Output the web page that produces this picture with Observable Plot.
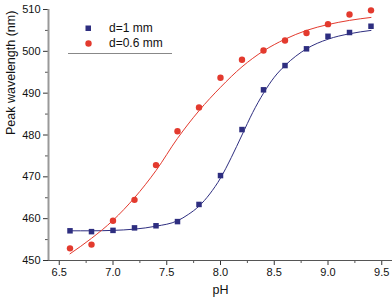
<!DOCTYPE html>
<html>
<head>
<meta charset="utf-8">
<script src="https://cdn.jsdelivr.net/npm/d3@7"></script>
<script src="https://cdn.jsdelivr.net/npm/@observablehq/plot@0.6"></script>
<style>
  html, body { margin: 0; padding: 0; background: #fff; }
  #wrap { position: relative; width: 392px; height: 300px; font-family: "Liberation Sans", Arial, sans-serif; }
  #legend { position: absolute; left: 68px; top: 21px; width: 104px; height: 32px; border-bottom: 1px solid #888; font-size: 12px; color: #111; }
  .item { position: absolute; left: 0; height: 15px; white-space: nowrap; }
  .item svg { position: absolute; left: 17px; top: 4px; }
  .item span { position: absolute; left: 41px; top: 0; line-height: 15px; }
</style>
</head>
<body>
<div id="wrap">
  <div id="chart"></div>
  <div id="legend"></div>
</div>
<script>
// Measured data
const pH = [6.6, 6.8, 7.0, 7.2, 7.4, 7.6, 7.8, 8.0, 8.2, 8.4, 8.6, 8.8, 9.0, 9.2, 9.4];
const peak1mm = [457.1, 456.9, 457.2, 457.8, 458.3, 459.3, 463.4, 470.3, 481.3, 490.8, 496.6, 500.6, 503.6, 504.5, 506.0];
const peak06mm = [452.9, 453.8, 459.5, 464.5, 472.8, 480.9, 486.6, 493.7, 498.0, 500.2, 502.6, 504.4, 506.5, 508.8, 509.8];

// Fit curves
const fitPH1 = [6.6, 6.8, 7.0, 7.2, 7.4, 7.6, 7.7, 7.8, 7.9, 8.0, 8.1, 8.2, 8.3, 8.4, 8.5, 8.6, 8.8, 9.0, 9.2, 9.4];
const fit1mm = [457.1, 457.1, 457.2, 457.5, 458.2, 459.5, 461.0, 463.0, 465.9, 469.7, 474.6, 480.0, 485.4, 490.0, 493.8, 496.6, 500.6, 502.9, 504.2, 505.0];
const fitPH06 = [6.6, 6.8, 7.0, 7.2, 7.4, 7.6, 7.8, 8.0, 8.2, 8.4, 8.6, 8.8, 9.0, 9.2, 9.4];
const fit06mm = [451.6, 455.3, 459.6, 465.0, 471.5, 479.2, 485.8, 491.4, 496.3, 500.1, 502.9, 505.0, 506.4, 507.4, 508.1];

const seriesNames = ["d=1 mm", "d=0.6 mm"];
const colors = ["#2e2e80", "#e33a2e"];

const xTicks = [6.5, 7.0, 7.5, 8.0, 8.5, 9.0, 9.5];
const xMinor = [6.75, 7.25, 7.75, 8.25, 8.75, 9.25];
const yTicks = [450, 460, 470, 480, 490, 500, 510];
const yMinor = [455, 465, 475, 485, 495, 505];
const xDomain = [6.4, 9.6];
const yDomain = [450, 510];
const xLabel = "pH";
const yLabel = "Peak wavelength (nm)";

const pts1 = pH.map((x, i) => ({x, y: peak1mm[i]}));
const pts06 = pH.map((x, i) => ({x, y: peak06mm[i]}));
const line1 = fitPH1.map((x, i) => ({x, y: fit1mm[i]}));
const line06 = fitPH06.map((x, i) => ({x, y: fit06mm[i]}));

const font = "Liberation Sans, Arial, sans-serif";

const chart = Plot.plot({
  width: 392,
  height: 300,
  marginLeft: 48,
  marginRight: 0,
  marginTop: 9,
  marginBottom: 40,
  style: {fontFamily: font, fontSize: "11px", color: "#111", background: "#fff"},
  x: {domain: xDomain},
  y: {domain: yDomain},
  marks: [
    Plot.axisX({ticks: xTicks, tickSize: 5, tickPadding: 3, tickFormat: d3.format(".1f"), label: null, stroke: "#333", fontSize: 11}),
    Plot.axisX({ticks: xMinor, tickSize: 3, text: null, label: null, stroke: "#555"}),
    Plot.axisY({ticks: yTicks, tickSize: 5, tickPadding: 3, label: null, stroke: "#333", fontSize: 11}),
    Plot.axisY({ticks: yMinor, tickSize: 3, text: null, label: null, stroke: "#555"}),
    Plot.ruleX([xDomain[0]], {stroke: "#999", strokeWidth: 2}),
    Plot.ruleY([yDomain[0]], {stroke: "#555", strokeWidth: 1.2}),
    Plot.line(line1, {x: "x", y: "y", stroke: colors[0], strokeWidth: 1, curve: "monotone-x"}),
    Plot.line(line06, {x: "x", y: "y", stroke: colors[1], strokeWidth: 1, curve: "monotone-x"}),
    Plot.dot(pts1, {x: "x", y: "y", symbol: "square", r: 3.1, fill: colors[0], stroke: "none"}),
    Plot.dot(pts06, {x: "x", y: "y", symbol: "circle", r: 3.2, fill: colors[1], stroke: "none"}),
    Plot.text([yLabel], {frameAnchor: "left", rotate: -90, dx: -38, fontSize: 12.5, fill: "#111"}),
    Plot.text([xLabel], {frameAnchor: "bottom", dy: 33, fontSize: 12.5, fill: "#111"})
  ]
});
document.getElementById("chart").appendChild(chart);

// Legend
const legend = document.getElementById("legend");
seriesNames.forEach((name, i) => {
  const item = document.createElement("div");
  item.className = "item";
  item.style.top = (i * 15) + "px";
  const shape = i === 0
    ? `<svg width="7" height="7"><rect x="0.5" y="0.5" width="5.5" height="5.5" fill="${colors[i]}"/></svg>`
    : `<svg width="7" height="7"><circle cx="3.5" cy="3.5" r="3.2" fill="${colors[i]}"/></svg>`;
  item.innerHTML = shape;
  const lab = document.createElement("span");
  lab.textContent = name;
  item.appendChild(lab);
  legend.appendChild(item);
});
</script>
</body>
</html>
